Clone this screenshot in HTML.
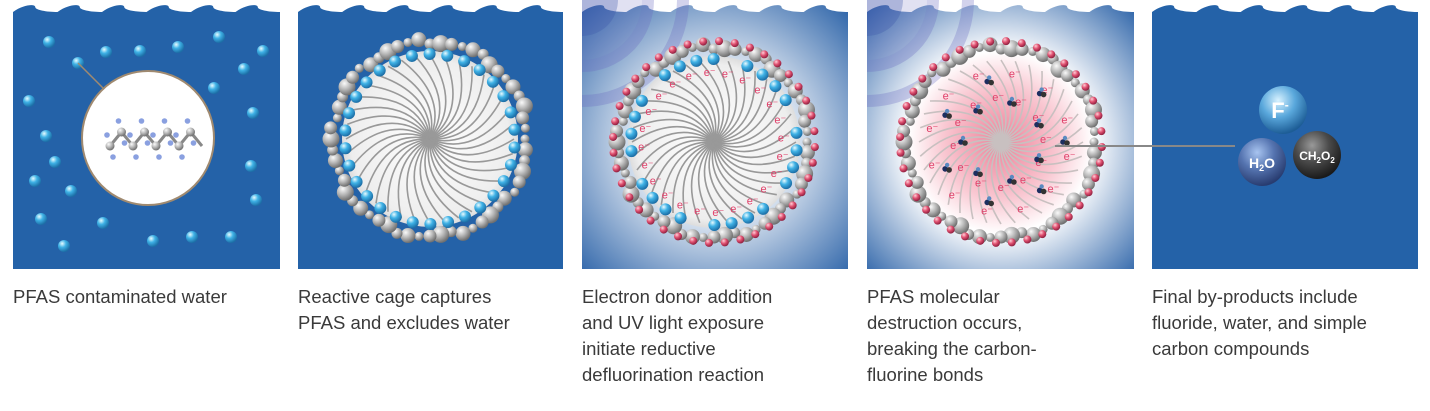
<!DOCTYPE html>
<html><head><meta charset="utf-8"><style>
body{margin:0;background:#fff;width:1430px;height:411px;overflow:hidden;position:relative;font-family:"Liberation Sans",sans-serif}
svg{position:absolute;left:0;top:0}
.t{position:absolute;top:284px;font-size:18.5px;line-height:26px;color:#3a3a3a;width:275px}
</style></head><body>
<svg id="s" width="1430" height="411" xmlns="http://www.w3.org/2000/svg">
<defs>
<radialGradient id="ball" cx="35%" cy="30%" r="70%"><stop offset="0" stop-color="#e8fbff"/><stop offset=".45" stop-color="#3fb2e6"/><stop offset="1" stop-color="#1c6ea6"/></radialGradient>
<radialGradient id="grey" cx="35%" cy="30%" r="70%"><stop offset="0" stop-color="#fafafa"/><stop offset=".5" stop-color="#b8b8b8"/><stop offset="1" stop-color="#707070"/></radialGradient>
<radialGradient id="red" cx="35%" cy="30%" r="70%"><stop offset="0" stop-color="#ffd0d8"/><stop offset=".5" stop-color="#e05070"/><stop offset="1" stop-color="#902040"/></radialGradient>
<radialGradient id="bg3" cx="50%" cy="52%" r="72%"><stop offset=".3" stop-color="#ffffff"/><stop offset="1" stop-color="#2c63a8"/></radialGradient>
<radialGradient id="bg4" cx="50%" cy="52%" r="72%"><stop offset=".05" stop-color="#f08aa0"/><stop offset=".3" stop-color="#f9c8d2"/><stop offset=".48" stop-color="#ffffff"/><stop offset="1" stop-color="#2c63a8"/></radialGradient>
<radialGradient id="inner" cx="50%" cy="50%" r="50%"><stop offset="0" stop-color="#fff"/><stop offset=".9" stop-color="#eee"/><stop offset="1" stop-color="#ddd"/></radialGradient>
<radialGradient id="F" cx="40%" cy="30%" r="70%"><stop offset="0" stop-color="#d8f2ff"/><stop offset=".5" stop-color="#5aa8dc"/><stop offset="1" stop-color="#1d5d96"/></radialGradient>
<radialGradient id="H" cx="40%" cy="30%" r="70%"><stop offset="0" stop-color="#a8c4f0"/><stop offset=".5" stop-color="#5574b0"/><stop offset="1" stop-color="#283c70"/></radialGradient>
<radialGradient id="C" cx="40%" cy="30%" r="70%"><stop offset="0" stop-color="#999"/><stop offset=".5" stop-color="#4a4a4a"/><stop offset="1" stop-color="#1a1a1a"/></radialGradient>
<clipPath id="c3"><rect x="582" y="0" width="266" height="270"/></clipPath>
<clipPath id="c4"><rect x="867" y="0" width="267" height="270"/></clipPath>
</defs>
<g id="g"></g>
</svg>
<div class="t" style="left:13px">PFAS contaminated water</div>
<div class="t" style="left:298px">Reactive cage captures<br>PFAS and excludes water</div>
<div class="t" style="left:582px">Electron donor addition<br>and UV light exposure<br>initiate reductive<br>defluorination reaction</div>
<div class="t" style="left:867px">PFAS molecular<br>destruction occurs,<br>breaking the carbon-<br>fluorine bonds</div>
<div class="t" style="left:1152px">Final by-products include<br>fluoride, water, and simple<br>carbon compounds</div>
<script>
var g=document.getElementById('g'),h='';
function panel(x,w,fill){var d='M'+x+' 12';for(var i=0;i<6;i++){var a=x+w*i/6,b=x+w*(i+1)/6;d+=' C'+(a+w/24)+' 4 '+(a+w/12)+' 4 '+(a+w/12)+' 7 S'+(b-w/24)+' 12 '+b+' 12';}
d+=' L'+(x+w)+' 269 L'+x+' 269 Z';h+='<path d="'+d+'" fill="'+fill+'"/>';}
panel(13,267,'#2462a8');panel(298,265,'#2462a8');panel(582,266,'url(#bg3)');panel(867,267,'url(#bg4)');panel(1152,266,'#2462a8');
[[582,'c3'],[867,'c4']].forEach(function(p){var x=p[0];h+='<g clip-path="url(#'+p[1]+')" fill="none" stroke="#6a6ac0" stroke-opacity=".3">';h+='<circle cx="'+x+'" cy="0" r="36" fill="#4a5ab0" fill-opacity=".45" stroke="none"/>';h+='<circle cx="'+x+'" cy="0" r="48" stroke-width="24" stroke-opacity=".2"/>';h+='<circle cx="'+x+'" cy="0" r="66" stroke-width="12"/>';h+='<circle cx="'+x+'" cy="0" r="101" stroke-width="12"/>';h+='</g>';});
var b1=[[49,42],[106,52],[140,51],[178,47],[219,37],[263,51],[78,63],[244,69],[214,88],[29,101],[253,113],[46,136],[55,162],[35,181],[71,191],[251,166],[256,200],[41,219],[103,223],[64,246],[153,241],[192,237],[231,237]];
b1.forEach(function(p){h+='<circle cx="'+p[0]+'" cy="'+p[1]+'" r="6" fill="url(#ball)"/>';});
h+='<line x1="78" y1="63" x2="103" y2="88" stroke="#a08a70" stroke-width="1.5"/>';
h+='<ellipse cx="148" cy="138" rx="66" ry="67" fill="#fff" stroke="#a08a70" stroke-width="2"/>';
for(var i=0;i<8;i++){var x=110+i*11.5,y=(i%2?132:146);h+='<line x1="'+x+'" y1="'+y+'" x2="'+(x+11.5)+'" y2="'+(i%2?146:132)+'" stroke="#888" stroke-width="3"/><circle cx="'+x+'" cy="'+y+'" r="4.5" fill="url(#grey)"/><circle cx="'+(x-3)+'" cy="'+(y-11)+'" r="2.8" fill="#8aa0e0"/><circle cx="'+(x+3)+'" cy="'+(y+11)+'" r="2.8" fill="#8aa0e0"/>';}
function cage(cx,cy,R,blue,red,ed,pf){
 if(!pf)h+='<circle cx="'+cx+'" cy="'+cy+'" r="'+(R-8)+'" fill="url(#inner)"/>';
 for(var i=0;i<36;i++){var a=i/36*6.283,r=R-12;var ex=cx+r*Math.cos(a),ey=cy+r*Math.sin(a);var mx=cx+r*.55*Math.cos(a+.75),my=cy+r*.55*Math.sin(a+.75);h+='<path d="M'+cx+' '+cy+' Q'+mx+' '+my+' '+ex+' '+ey+'" fill="none" stroke="'+(pf?'#c8c0c0':'#999')+'" stroke-width="1.6"/>';}
 for(var i=0;i<56;i++){var a=i/56*6.283,r=R-1+((i*7)%6);h+='<circle cx="'+(cx+r*Math.cos(a))+'" cy="'+(cy+r*Math.sin(a))+'" r="'+(4.5+(i*13)%5)+'" fill="url(#grey)"/>';}
 if(blue)for(var i=0;i<30;i++){if(blue==2&&(i%5==3))continue;var a=i/30*6.283+.1,r=R-11;h+='<circle cx="'+(cx+r*Math.cos(a))+'" cy="'+(cy+r*Math.sin(a))+'" r="6" fill="url(#ball)"/>';}
 if(red)for(var i=0;i<40;i++){var a=i/40*6.283+.05,r=R+7;h+='<circle cx="'+(cx+r*Math.cos(a))+'" cy="'+(cy+r*Math.sin(a))+'" r="4" fill="url(#red)"/>';}
 if(ed)for(var i=0;i<ed;i++){var a=i/ed*6.283+.2,r=R-24-(pf&&i%2?25:0);h+='<text x="'+(cx+r*Math.cos(a))+'" y="'+(cy+r*Math.sin(a)+4)+'" font-size="11" fill="#e0406a" font-family="Liberation Sans" text-anchor="middle">e⁻</text>';}
 if(pf)for(var i=0;i<14;i++){var a=i/14*6.283,r=(i%2?40:62);var x=cx+r*Math.cos(a),y=cy+r*Math.sin(a);h+='<circle cx="'+x+'" cy="'+y+'" r="2.8" fill="#1c2e60"/><circle cx="'+(x+4)+'" cy="'+(y+1)+'" r="2.8" fill="#333"/><circle cx="'+(x+2)+'" cy="'+(y-4)+'" r="2.2" fill="#5a8ac0"/>';}
}
cage(430,139,96,1,0,0,0);
cage(714,142,94,2,1,24,0);
cage(1001,142,94,0,1,24,1);
h+='<line x1="1055" y1="146" x2="1235" y2="146" stroke="#888" stroke-width="2"/>';
h+='<circle cx="1283" cy="110" r="24" fill="url(#F)"/><text x="1280" y="118" font-size="22" font-weight="bold" fill="#fff" text-anchor="middle" font-family="Liberation Sans">F<tspan font-size="12" dy="-9">-</tspan></text>';
h+='<circle cx="1262" cy="162" r="24" fill="url(#H)"/><text x="1262" y="168" font-size="14" font-weight="bold" fill="#fff" text-anchor="middle" font-family="Liberation Sans">H<tspan font-size="9" dy="3">2</tspan><tspan dy="-3">O</tspan></text>';
h+='<circle cx="1317" cy="155" r="24" fill="url(#C)"/><text x="1317" y="160" font-size="12" font-weight="bold" fill="#fff" text-anchor="middle" font-family="Liberation Sans">CH<tspan font-size="8" dy="3">2</tspan><tspan dy="-3">O</tspan><tspan font-size="8" dy="3">2</tspan></text>';
g.innerHTML=h;
</script>
</body></html>
